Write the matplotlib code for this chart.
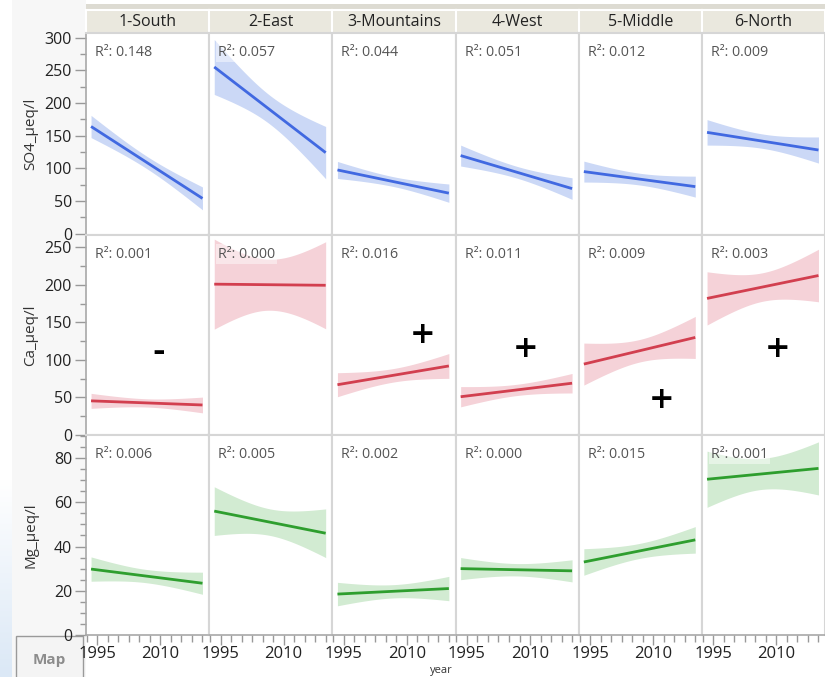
import numpy as np
import matplotlib
matplotlib.use("Agg")
import matplotlib.pyplot as plt
from matplotlib.patches import Rectangle
from matplotlib.ticker import MultipleLocator

plt.rcParams['font.family'] = ['Open Sans', 'DejaVu Sans']

# ---------------- data ----------------
regions = ['1-South', '2-East', '3-Mountains', '4-West', '5-Middle', '6-North']
year_first = 1993.5
year_last = 2020.0

so4_start = [164, 255, 97.5, 119.5, 95, 155]
so4_end = [54, 124, 62, 69, 72, 128]
so4_hw_start = [17, 42, 13, 16, 16, 19.5]
so4_hw_end = [17.5, 40, 14, 16.5, 16, 20]
so4_hw_mid = [9.5, 22, 7.5, 9, 9, 11]
so4_r2 = ['0.148', '0.057', '0.044', '0.051', '0.012', '0.009']

ca_start = [45.5, 201, 67, 51, 94.5, 182]
ca_end = [40, 199.5, 92, 69, 130, 212.5]
ca_hw_start = [10, 60, 16, 13.5, 28, 35.5]
ca_hw_end = [10.5, 58, 16.5, 13, 28, 35]
ca_hw_mid = [5.5, 34, 9, 7.5, 15, 19]
ca_r2 = ['0.001', '0.000', '0.016', '0.011', '0.009', '0.003']

mg_start = [29.8, 56, 18.5, 30, 33, 70.4]
mg_end = [23.4, 46, 21, 29, 43, 75.3]
mg_hw_start = [5.5, 11, 5.3, 5, 6, 12.7]
mg_hw_end = [5, 11, 5.5, 5, 6, 12]
mg_hw_mid = [3, 6, 3, 2.8, 3.4, 7]
mg_r2 = ['0.006', '0.005', '0.002', '0.000', '0.015', '0.001']

row_labels = ['SO4_µeq/l', 'Ca_µeq/l', 'Mg_µeq/l']
row_ylim = [(-2, 307), (0, 266.5), (0, 90.4)]
row_major = [50, 50, 20]
row_minor = [25, 25, 5]
row_line = ['#4169e1', '#d23f4f', '#2e9e2e']
row_band = ['#cbd8f6', '#f5d2d8', '#d2ebd2']

# Ca-panel trend annotations: (panel index, symbol, year, value)
marks_panel = [0, 2, 3, 4, 5]
marks_symbol = ['-', '+', '+', '+', '+']
marks_year = [2009.5, 2013.8, 2009.0, 2012.0, 2010.2]
marks_value = [110, 134, 114.6, 47, 114.6]

x_ticks = [1995, 2010]

rows = [
    (so4_start, so4_end, so4_hw_start, so4_hw_end, so4_hw_mid, so4_r2),
    (ca_start, ca_end, ca_hw_start, ca_hw_end, ca_hw_mid, ca_r2),
    (mg_start, mg_end, mg_hw_start, mg_hw_end, mg_hw_mid, mg_r2),
]

# ---------------- layout ----------------
W, H = 825, 677
fig = plt.figure(figsize=(W / 100, H / 100), dpi=100)
fig.patch.set_facecolor('white')

def fx(x):
    return x / W

def fy(y):
    return 1 - y / H

# background decorations (kept below the axes)
fig.patches.append(Rectangle((fx(12), 0), fx(86) - fx(12), 1, transform=fig.transFigure,
                             facecolor='#f7f7f7', edgecolor='none', zorder=-2))
grad = np.linspace(0, 1, 200).reshape(-1, 1)
gax = fig.add_axes([0, 0, fx(12), fy(480)], zorder=-3)
gax.imshow(grad, aspect='auto', cmap=matplotlib.colors.LinearSegmentedColormap.from_list(
    'g', ['#dbe8f6', '#ffffff']), origin='lower')
gax.axis('off')
fig.patches.append(Rectangle((fx(86), fy(10)), 1 - fx(86), fy(4) - fy(10), transform=fig.transFigure,
                             facecolor='#dddbd2', edgecolor='none', zorder=-2))
# "Map" box at lower left
fig.patches.append(Rectangle((fx(16), fy(690)), fx(83) - fx(16), fy(636) - fy(690),
                             transform=fig.transFigure, facecolor='#f4f4f4',
                             edgecolor='#9a9a9a', lw=1, zorder=-1))

col_left0 = 86
col_w = 123.2
row_tops = [33, 235, 435]
row_bots = [235, 435, 635]

xlim = (1992.3, 2021.6)
xs = np.linspace(year_first, year_last, 120)
u = (xs - xs.mean()) / (xs.max() - xs.mean())

for c, reg in enumerate(regions):
    left = col_left0 + c * col_w
    # header strip
    hax = fig.add_axes([fx(left), fy(33), col_w / W, (33 - 10) / H])
    hax.set_facecolor('#eae8de')
    hax.set_xticks([]); hax.set_yticks([])
    for s in hax.spines.values():
        s.set_color('white'); s.set_linewidth(1.5)
    hax.text(0.5, 0.48, reg, ha='center', va='center', fontsize=11.5, color='#222222',
             transform=hax.transAxes)

    for r in range(3):
        start, end, hws, hwe, hwm, r2 = rows[r]
        top, bot = row_tops[r], row_bots[r]
        ax = fig.add_axes([fx(left), fy(bot), col_w / W, (bot - top) / H])
        ax.set_xlim(*xlim)
        ax.set_ylim(*row_ylim[r])
        y_line = np.interp(xs, [year_first, year_last], [start[c], end[c]])
        he = np.where(u < 0, hws[c], hwe[c])
        hw = np.sqrt(hwm[c] ** 2 + (he ** 2 - hwm[c] ** 2) * u ** 2)
        ax.fill_between(xs, y_line - hw, y_line + hw, color=row_band[r], lw=0, zorder=1)
        ax.plot([year_first, year_last], [start[c], end[c]], color=row_line[r], lw=2, zorder=2,
                solid_capstyle='butt')
        ax.text(9 / col_w, 1 - 19 / (bot - top), 'R²: ' + r2[c], transform=ax.transAxes,
                ha='left', va='center', fontsize=10.3, color='#555555', zorder=3,
                bbox=dict(boxstyle='square,pad=0.15', facecolor='white', alpha=0.45, edgecolor='none'))

        for s in ax.spines.values():
            s.set_color('#d6d6d6'); s.set_linewidth(1.5)
        ax.tick_params(which='both', color='#999999', labelcolor='#222222')
        ax.tick_params(axis='x', labelsize=12)
        ax.tick_params(axis='y', labelsize=11.5)
        ax.yaxis.set_major_locator(MultipleLocator(row_major[r]))
        ax.yaxis.set_minor_locator(MultipleLocator(row_minor[r]))
        ax.set_xticks(x_ticks)
        ax.xaxis.set_minor_locator(MultipleLocator(2.5))
        if c == 0:
            ax.spines['left'].set_color('#a8a8a8'); ax.spines['left'].set_linewidth(1.2)
            ax.tick_params(axis='y', which='major', length=8, width=1, pad=2)
            ax.tick_params(axis='y', which='minor', length=4, width=1)
        else:
            ax.tick_params(axis='y', which='both', left=False, labelleft=False)
        if r == 2:
            ax.spines['bottom'].set_color('#a8a8a8'); ax.spines['bottom'].set_linewidth(1.2)
            ax.tick_params(axis='x', which='major', length=7, width=1, pad=1)
            ax.tick_params(axis='x', which='minor', length=5, width=1)
        else:
            ax.tick_params(axis='x', which='both', bottom=False, labelbottom=False)

        if r == 1:
            for p, sym, yr, val in zip(marks_panel, marks_symbol, marks_year, marks_value):
                if p == c:
                    ax.text(yr, val, sym, ha='center', va='center', fontsize=22, fontweight='bold',
                            color='black', family='DejaVu Sans', zorder=4)

# row labels
for r in range(3):
    yc = (row_tops[r] + row_bots[r]) / 2
    fig.text(fx(31), fy(yc), row_labels[r], rotation=90, ha='center', va='center',
             fontsize=11, color='#333333')

fig.text(fx(49), fy(660), 'Map', ha='center', va='center', fontsize=11, fontweight='bold',
         color='#8c8c8c', zorder=6)
fig.text(fx(441), fy(670), 'year', ha='center', va='center', fontsize=8, color='#333333')

fig.savefig('out.png', dpi=100)
